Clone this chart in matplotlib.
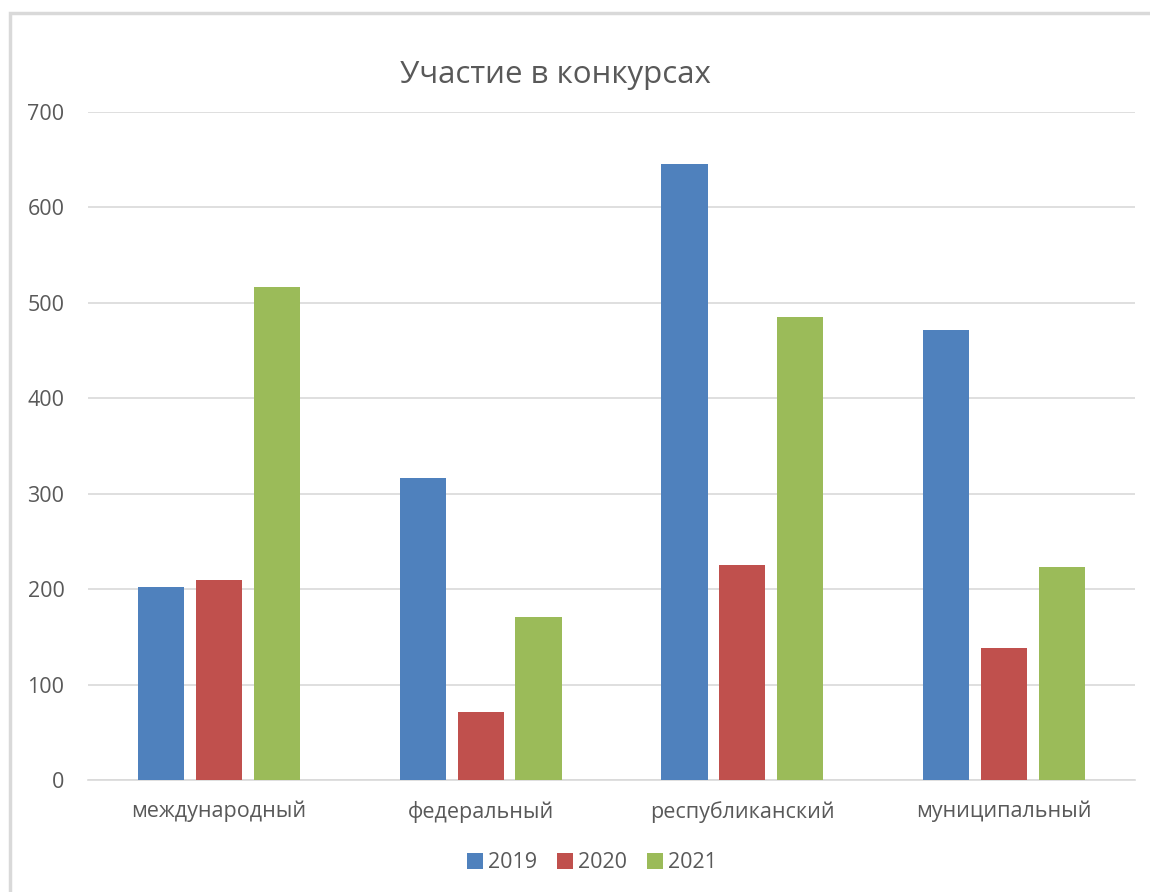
import matplotlib
matplotlib.use("Agg")
import matplotlib.pyplot as plt
import numpy as np
from matplotlib.patches import Rectangle

categories = ["международный", "федеральный", "республиканский", "муниципальный"]
years = ["2019", "2020", "2021"]
v2019 = [202, 316, 645, 472]
v2020 = [210, 71, 225, 138]
v2021 = [517, 171, 485, 223]
series = [v2019, v2020, v2021]
colors = ["#4F81BD", "#C0504D", "#9BBB59"]
yticks = [0, 100, 200, 300, 400, 500, 600, 700]

plt.rcParams['font.family'] = ['Open Sans', 'DejaVu Sans']

fig = plt.figure(figsize=(11.5, 8.92), dpi=100)
fig.patches.append(Rectangle((10/1150, -0.05), 1.1, 1 - 13/892 + 0.05,
                             transform=fig.transFigure, fill=False,
                             edgecolor="#D9D9D9", linewidth=2.5, zorder=0))
ax = fig.add_axes([88/1150, 1 - 780/892, (1135 - 88)/1150, (780 - 112)/892])

x = np.arange(len(categories))
width = 0.176
step = 0.221
for i, (vals, c, lab) in enumerate(zip(series, colors, years)):
    ax.bar(x + (i - 1) * step, vals, width, color=c, label=lab, zorder=3)

ax.set_xlim(-0.5, 3.5)
ax.set_ylim(0, 700)
ax.set_yticks(yticks)
ax.set_xticks(x)
ax.set_xticklabels(categories)
ax.yaxis.grid(True, color="#D9D9D9", linewidth=1.2, zorder=0)
for s in ["top", "right", "left"]:
    ax.spines[s].set_visible(False)
ax.spines["bottom"].set_color("#D9D9D9")
ax.spines["bottom"].set_linewidth(1.2)
ax.tick_params(axis="both", length=0, colors="#595959", labelsize=15.5)
ax.tick_params(axis="y", pad=17)
ax.tick_params(axis="x", pad=15)

fig.text(555/1150, 1 - 75/892, "Участие в конкурсах", ha="center", va="center",
         fontsize=22.5, color="#595959")

fig.legend(loc="center", bbox_to_anchor=(592/1150, 1 - 863/892), ncol=3,
           frameon=False, fontsize=15.5, handlelength=0.75, handleheight=0.75,
           handletextpad=0.25, columnspacing=0.9, labelcolor="#595959")

fig.savefig("out.png", dpi=100)
